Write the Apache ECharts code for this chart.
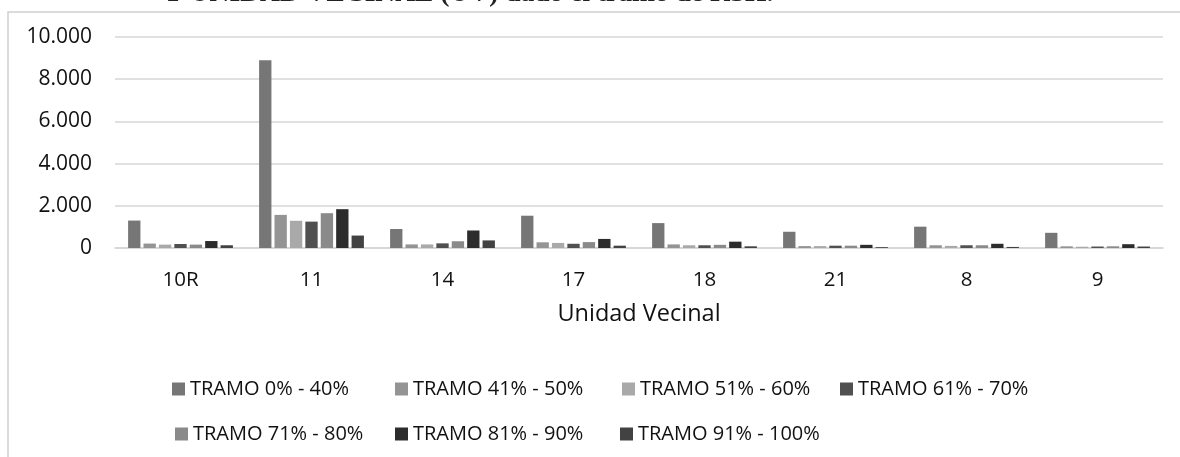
<!DOCTYPE html>
<html>
<head>
<meta charset="utf-8">
<script src="https://cdn.jsdelivr.net/npm/echarts@6/dist/echarts.min.js"></script>
<style>
  html, body { margin: 0; padding: 0; background: #fff; }
  #chart { width: 1180px; height: 457px; }
</style>
</head>
<body>
<div id="chart"></div>
<script>
  // Unidades vecinales
  const categories = ["10R", "11", "14", "17", "18", "21", "8", "9"]

  const seriesNames = [
    "TRAMO 0% - 40%",
    "TRAMO 41% - 50%",
    "TRAMO 51% - 60%",
    "TRAMO 61% - 70%",
    "TRAMO 71% - 80%",
    "TRAMO 81% - 90%",
    "TRAMO 91% - 100%",
  ]

  // values, one array per tramo
  const tramo0_40 = [1300, 8900, 900, 1530, 1180, 770, 1010, 720]
  const tramo41_50 = [210, 1570, 170, 270, 170, 90, 130, 80]
  const tramo51_60 = [160, 1290, 170, 240, 130, 90, 100, 60]
  const tramo61_70 = [190, 1250, 220, 200, 130, 110, 130, 70]
  const tramo71_80 = [160, 1650, 320, 280, 150, 110, 130, 80]
  const tramo81_90 = [330, 1840, 830, 430, 300, 150, 200, 180]
  const tramo91_100 = [130, 590, 360, 110, 80, 40, 50, 70]

  const yTicks = [0, 2000, 4000, 6000, 8000, 10000]

  const seriesValues = [tramo0_40, tramo41_50, tramo51_60, tramo61_70, tramo71_80, tramo81_90, tramo91_100]
  const colors = ["#767676", "#949494", "#a9a9a9", "#505050", "#8a8a8a", "#2c2c2c", "#424242"]

  const font = "'Open Sans', sans-serif"

  // Excel puts the legend in fixed-width columns, two rows
  const legendColumns = [167, 390, 617, 835, 170, 390, 615]
  const legendRows = [374, 374, 374, 374, 419, 419, 419]

  const chart = echarts.init(document.getElementById("chart"), null, { renderer: "canvas" })

  const legends = seriesNames.map((name, i) => ({
    left: legendColumns[i],
    top: legendRows[i],
    data: [name],
    itemWidth: 13,
    itemHeight: 13,
    icon: "rect",
    selectedMode: false,
    textStyle: {
      fontFamily: font,
      fontSize: 20,
      color: "#111",
    },
  }))

  const option = {
    animation: false,
    backgroundColor: "#fff",
    color: colors,
    graphic: [
      {
        type: "rect",
        shape: { x: 8, y: 12, width: 1400, height: 700 },
        style: { fill: "none", stroke: "#cfcfcf", lineWidth: 1.5 },
        silent: true,
      },
      {
        // caption of the scanned page, mostly cut off by the crop
        type: "text",
        left: 163,
        top: -20,
        style: {
          text: "Y UNIDAD VECINAL (UV) dado el tramo de RSH.",
          font: "bold 27.5px 'Liberation Serif', serif",
          fill: "#222",
        },
        silent: true,
      },
    ],
    grid: {
      left: 115,
      right: 17,
      top: 37,
      bottom: 209,
    },
    legend: legends,
    xAxis: {
      type: "category",
      data: categories,
      name: "Unidad Vecinal",
      nameLocation: "middle",
      nameGap: 54,
      nameTextStyle: {
        fontFamily: font,
        fontSize: 23.5,
        color: "#111",
      },
      axisLine: { lineStyle: { color: "#d3d3d3", width: 1.5 } },
      axisTick: { show: false },
      axisLabel: {
        fontFamily: font,
        fontSize: 20.5,
        color: "#111",
        margin: 22,
      },
    },
    yAxis: {
      type: "value",
      min: yTicks[0],
      max: yTicks[yTicks.length - 1],
      interval: 2000,
      axisLine: { show: false },
      axisTick: { show: false },
      axisLabel: {
        fontFamily: font,
        fontSize: 21,
        color: "#111",
        margin: 23,
        formatter: (v) => v.toString().replace(/\B(?=(\d{3})+(?!\d))/g, "."),
      },
      splitLine: { lineStyle: { color: "#d6d6d6", width: 1.5 } },
    },
    series: seriesNames.map((name, i) => ({
      name: name,
      type: "bar",
      data: seriesValues[i],
      barGap: "25%",
      barCategoryGap: "20%",
      itemStyle: { color: colors[i] },
      emphasis: { disabled: true },
    })),
  }

  chart.setOption(option)
</script>
</body>
</html>
